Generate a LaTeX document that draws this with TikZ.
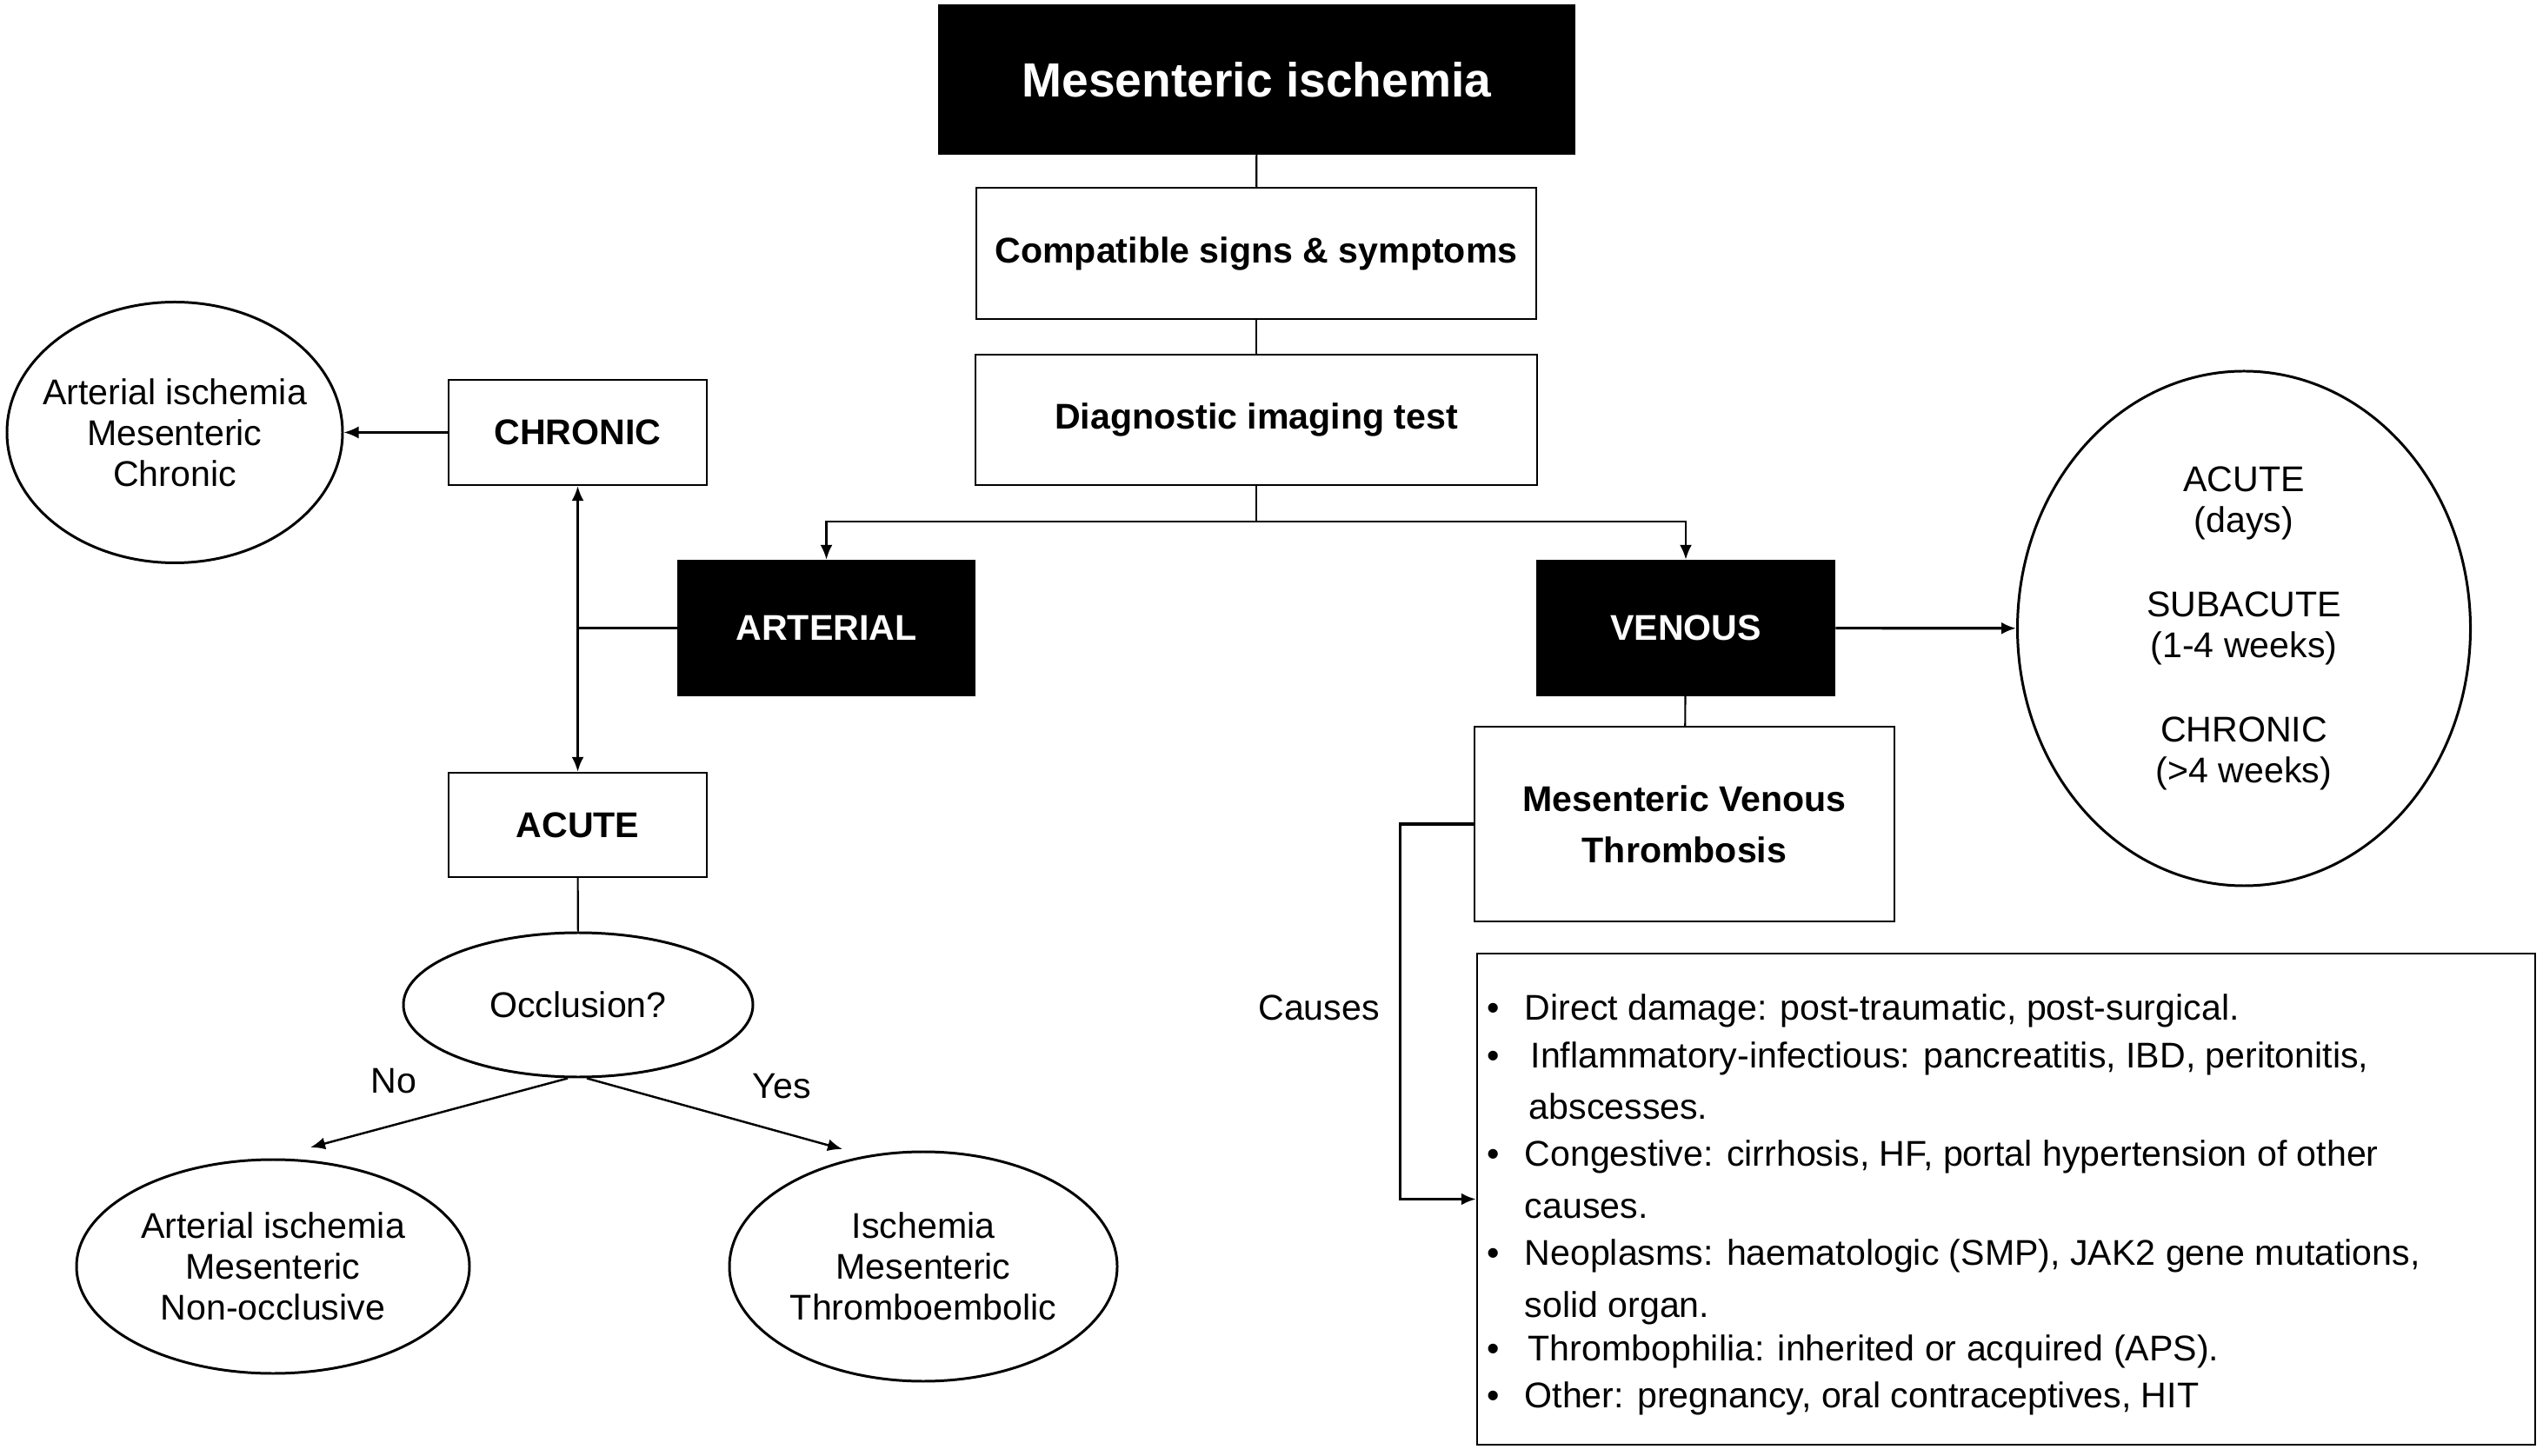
\documentclass[tikz,border=0pt]{standalone}
\usepackage{fontspec}
\setmainfont{Liberation Sans}
\usetikzlibrary{shapes.geometric,arrows.meta}

\begin{document}
\begin{tikzpicture}[
    font=\fontsize{11.7}{13.4}\selectfont,
    >={Latex[length=0.17cm,width=0.14cm]},
    box/.style={draw, line width=0.7pt, inner sep=0pt, align=center, font=\fontsize{11.7}{16.8}\selectfont\bfseries},
    blackbox/.style={box, fill=black, text=white},
    oval/.style={ellipse, draw, line width=0.85pt, inner sep=-0.5cm, align=center},
    link/.style={line width=0.6pt},
    arr/.style={line width=0.7pt, ->},
    bigarr/.style={line width=0.9pt, ->},
    cause/.style={anchor=base west, inner sep=0pt},
  ]
\useasboundingbox (0,0) rectangle (29.25,16.74);

% main column
\node[blackbox, minimum width=7.31cm, minimum height=1.71cm, font=\fontsize{15.7}{19}\selectfont\bfseries] (mi) at (14.455,15.825) {Mesenteric ischemia};
\node[box, minimum width=6.44cm, minimum height=1.51cm] (sym) at (14.45,13.825) {Compatible signs \& symptoms};
\node[box, minimum width=6.46cm, minimum height=1.50cm] (img) at (14.45,11.91) {Diagnostic imaging test};

\node[blackbox, minimum width=3.41cm, minimum height=1.55cm] (art) at (9.505,9.515) {ARTERIAL};
\node[blackbox, minimum width=3.42cm, minimum height=1.55cm] (ven) at (19.39,9.515) {VENOUS};

% arterial side
\node[box, minimum width=2.97cm, minimum height=1.21cm] (chr) at (6.645,11.765) {CHRONIC};
\node[box, minimum width=2.97cm, minimum height=1.20cm] (acu) at (6.645,7.25) {ACUTE};
\node[oval, minimum width=3.86cm, minimum height=3.0cm] (archr) at (2.01,11.765) {Arterial ischemia\\Mesenteric\\Chronic};
\node[oval, minimum width=4.02cm, minimum height=1.66cm] (occ) at (6.65,5.18) {Occlusion?};
\node[oval, minimum width=4.52cm, minimum height=2.46cm] (nonocc) at (3.14,2.17) {Arterial ischemia\\Mesenteric\\Non-occlusive};
\node[oval, minimum width=4.46cm, minimum height=2.64cm] (thromb) at (10.62,2.17) {Ischemia\\Mesenteric\\Thromboembolic};
\node (no) at (4.53,4.30) {No};
\node (yes) at (8.99,4.24) {Yes};
\coordinate (noend) at (3.57,3.54);
\coordinate (yesend) at (9.69,3.52);

% venous side
\node[oval, minimum width=5.21cm, minimum height=5.92cm] (phase) at (25.81,9.51) {ACUTE\\(days)\\[0.50cm]SUBACUTE\\(1-4 weeks)\\[0.50cm]CHRONIC\\(>4 weeks)};
\node[box, minimum width=4.83cm, minimum height=2.24cm] (mvt) at (19.375,7.26) {Mesenteric Venous\\Thrombosis};
\node[box, minimum width=12.17cm, minimum height=5.65cm] (cbox) at (23.075,2.945) {};
\node[anchor=base] (causes) at (15.17,5.01) {Causes};

\node[cause] (c1) at (17.10,5.01) {\makebox[0.43cm][l]{\textbullet}Direct damage: post-traumatic, post-surgical.};
\node[cause] (c2) at (17.10,4.46) {\makebox[0.50cm][l]{\textbullet}Inflammatory-infectious: pancreatitis, IBD, peritonitis,};
\node[cause] (c3) at (17.58,3.87) {abscesses.};
\node[cause] (c4) at (17.10,3.33) {\makebox[0.43cm][l]{\textbullet}Congestive: cirrhosis, HF, portal hypertension of other};
\node[cause] (c5) at (17.53,2.73) {causes.};
\node[cause] (c6) at (17.10,2.19) {\makebox[0.43cm][l]{\textbullet}Neoplasms: haematologic (SMP), JAK2 gene mutations,};
\node[cause] (c7) at (17.53,1.59) {solid organ.};
\node[cause] (c8) at (17.10,1.09) {\makebox[0.47cm][l]{\textbullet}Thrombophilia: inherited or acquired (APS).};
\node[cause] (c9) at (17.10,0.55) {\makebox[0.43cm][l]{\textbullet}Other: pregnancy, oral contraceptives, HIT};

% connectors
\draw[link] (mi) -- (sym);
\draw[link] (sym) -- (img);
\draw[link] (img.south) -- ++(0,-0.41) coordinate (split);
\draw[arr] (split) -| (art.north);
\draw[arr] (split) -| (ven.north);

\draw[link] (art.west) -- (art.west -| chr.south);
\draw[arr, <->] (chr.south) -- (acu.north);
\draw[arr] (chr) -- (archr);
\draw[link] (acu) -- (occ);
\draw[arr] ([xshift=-0.12cm]occ.south) -- (noend);
\draw[arr] ([xshift=0.10cm]occ.south) -- (yesend);

\draw[bigarr] (ven) -- (phase);
\draw[link] (ven) -- (mvt);
\draw[bigarr] (mvt.west) -- ++(-0.84,0) |- (cbox.west);
\end{tikzpicture}
\end{document}
